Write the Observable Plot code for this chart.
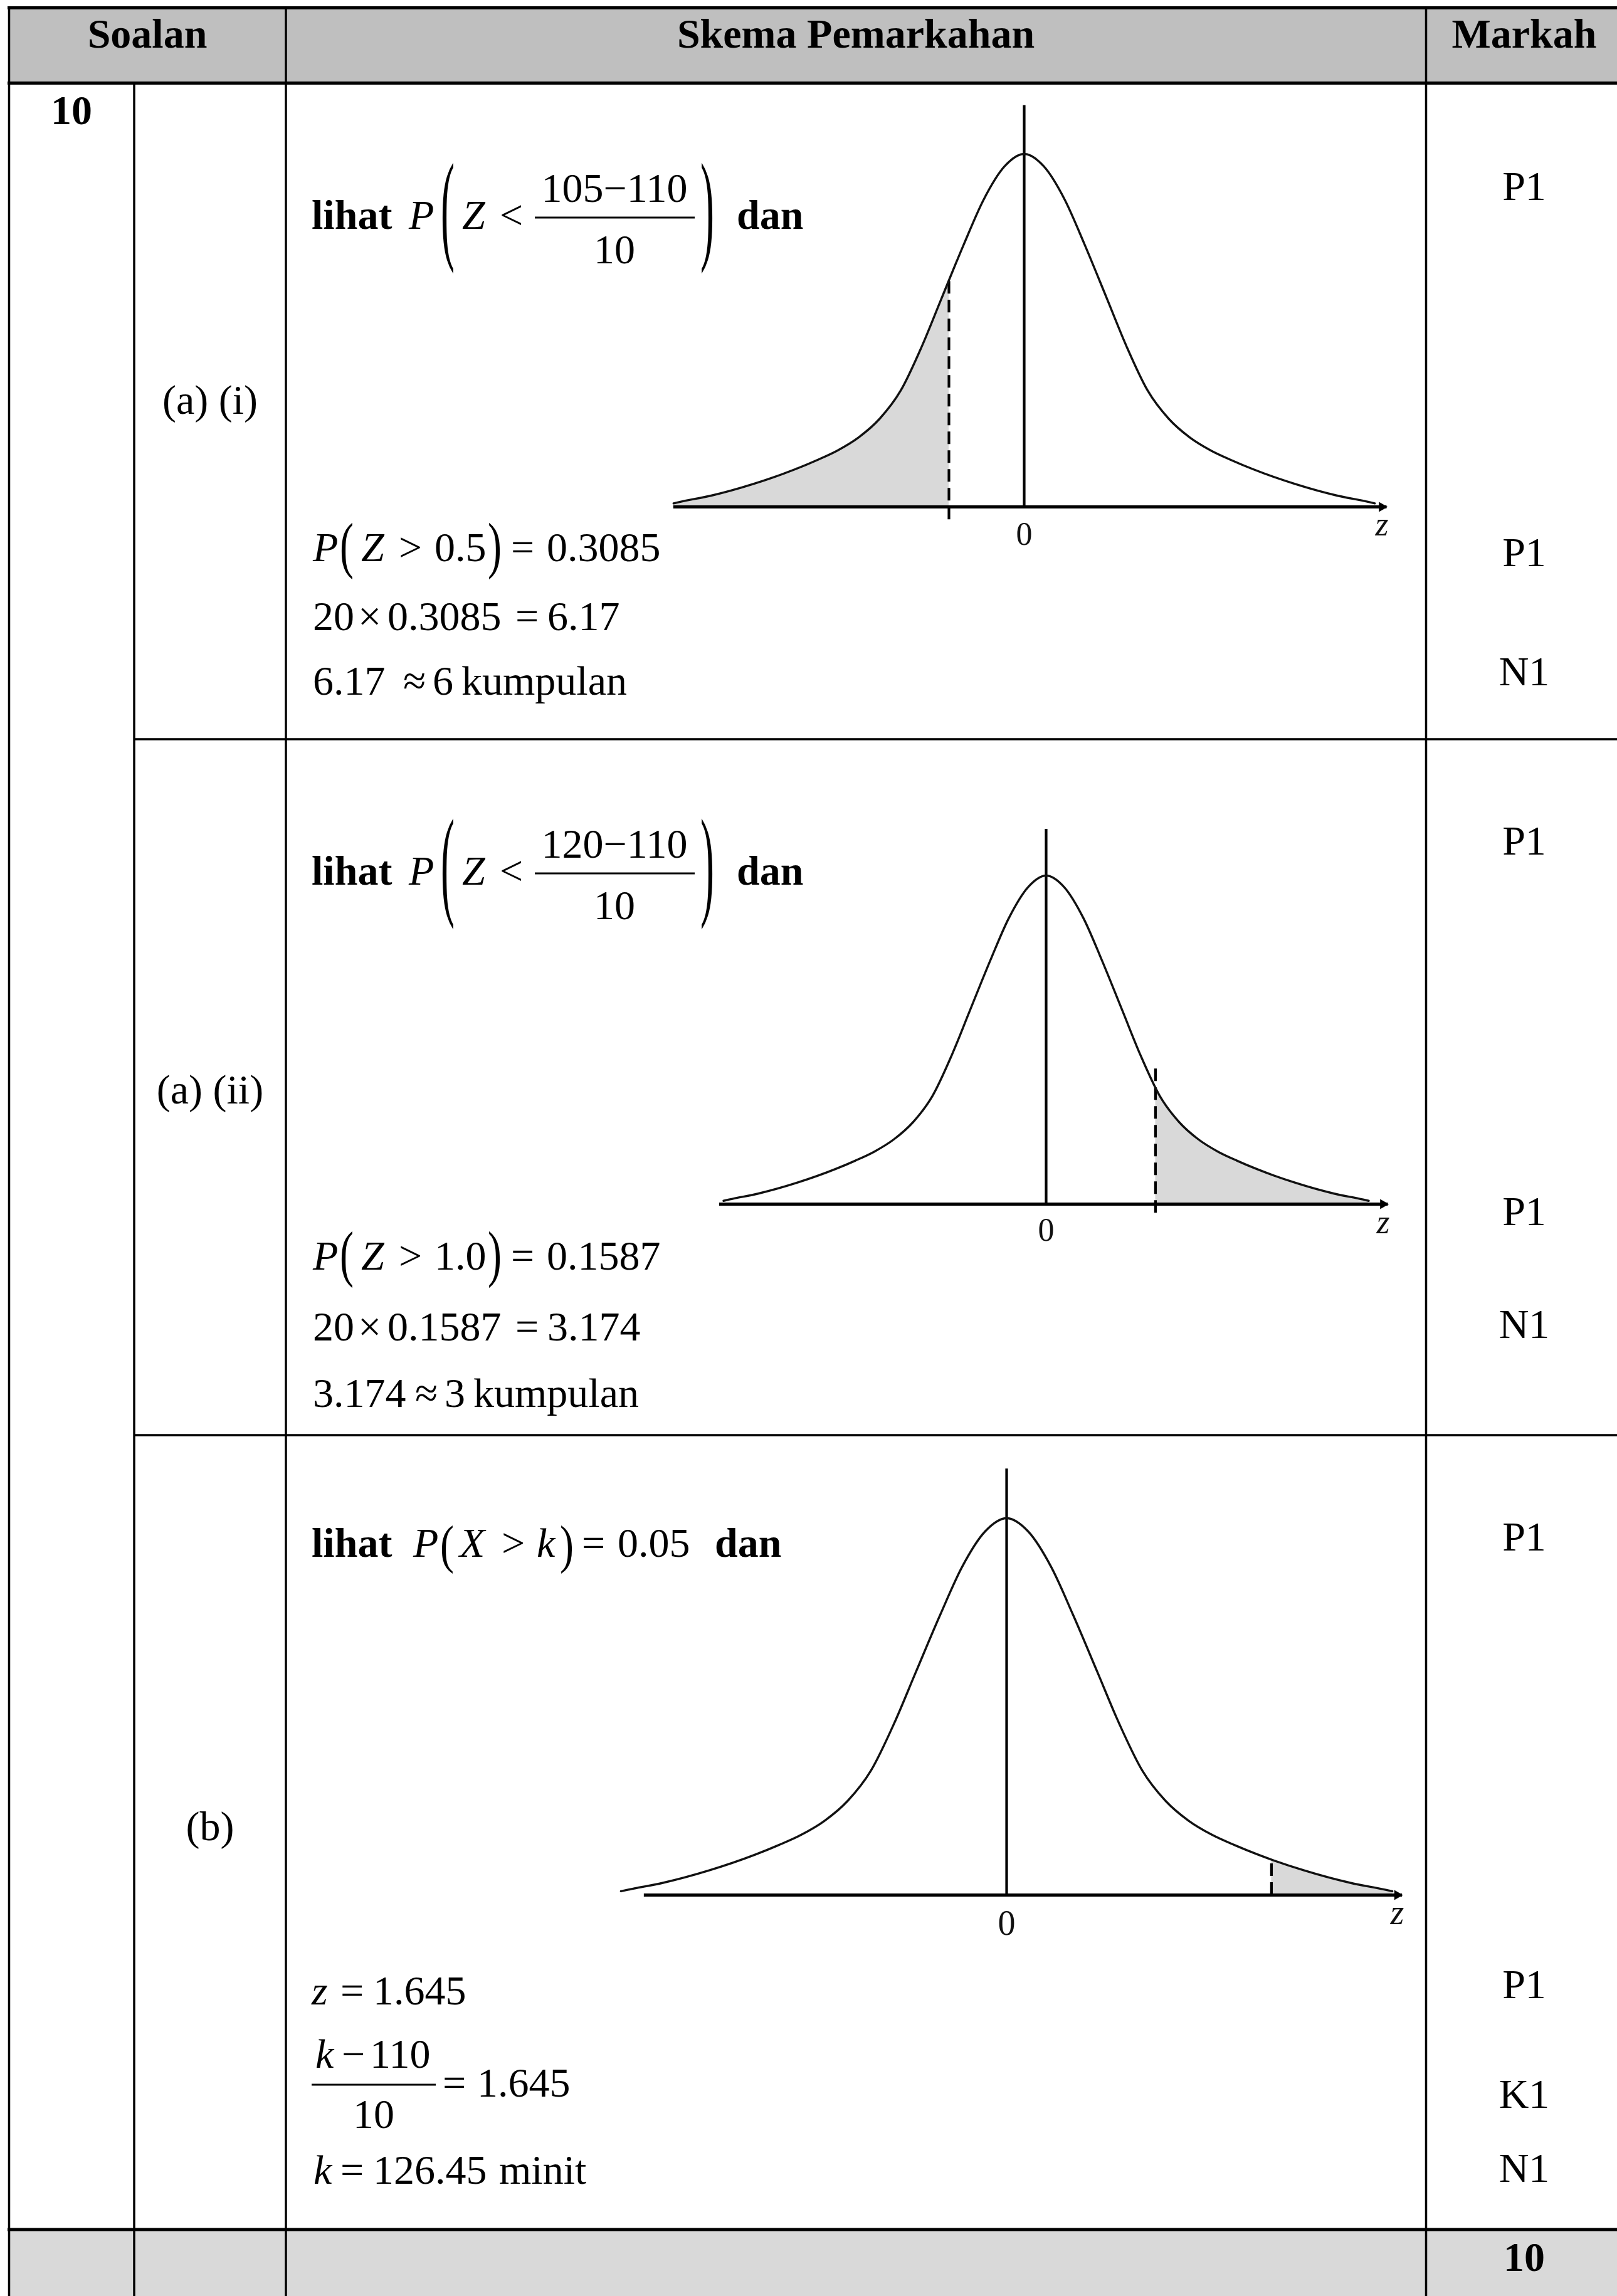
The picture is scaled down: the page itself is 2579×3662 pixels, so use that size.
<!DOCTYPE html>
<html>
<head>
<meta charset="utf-8">
<script src="https://cdn.jsdelivr.net/npm/d3@7"></script>
<script src="https://cdn.jsdelivr.net/npm/@observablehq/plot@0.6"></script>
<style>
html, body { margin: 0; padding: 0; background: #fff; }
#page { position: relative; width: 2579px; height: 3662px; overflow: hidden; background: #fff;
        font-family: "Liberation Serif", "Times New Roman", serif; }
#table { position: absolute; left: 0; top: 0; }
</style>
</head>
<body>
<div id="page"></div>
<script>
// ---------------- DATA ----------------
// Bell-curve shape: right half, horizontal position u and height as a fraction of the peak
const curveU = [0, 0.13, 0.27, 0.40, 0.55, 0.68, 0.82, 0.96, 1.10, 1.24, 1.38, 1.52, 1.80, 2.08, 2.29, 2.33];
const curveH = [1, 0.965, 0.870, 0.745, 0.590, 0.455, 0.330, 0.250, 0.197, 0.160, 0.132, 0.107, 0.065, 0.032, 0.014, 0.010];

const partLabels = ["(a) (i)", "(a) (ii)", "(b)"];
const cutU = [-0.5, 0.79, 1.60];          // dashed cut position (curve units)
const cutH = [0.642, 0.357, 0.095];       // curve height at the cut
const dashTop = [0.642, 0.412, 0.095];
const dashBottom = [-0.036, -0.027, 0];
const shadeSide = ["left", "right", "right"];
const axisFrom = [-2.33, -2.36, -2.19];
const axisTo = [2.41, 2.47, 2.39];
const zeroLineTop = [1.137, 1.141, 1.131];
const tickValues = [0];
const tickLabels = ["0"];
const axisName = "z";

const headers = ["Soalan", "Skema Pemarkahan", "Markah"];
const questionNo = "10";
const numerators = ["105−110", "120−110"];
const denominator = "10";
const probLines = [["0.5", "0.3085"], ["1.0", "0.1587"]];
const productLines = [["20", "0.3085", "6.17"], ["20", "0.1587", "3.174"]];
const roundLines = [["6.17", "6", "kumpulan"], ["3.174", "3", "kumpulan"]];
const partBTexts = ["0.05", "1.645", "110", "10", "126.45", "minit"];
const markLabels = [["P1", "P1", "N1"], ["P1", "P1", "N1"], ["P1", "P1", "K1", "N1"]];
const totalMark = "10";

// ---------------- TABLE + TEXT (layout) ----------------
const FS = 66;
const parts = [];
const esc = s => s.replace(/&/g, "&amp;").replace(/</g, "&lt;").replace(/>/g, "&gt;");
function txt(x, y, s, o = {}) {
  parts.push(`<text x="${x}" y="${y}" font-size="${o.fs || FS}"${o.bold ? ' font-weight="bold"' : ''}${o.it ? ' font-style="italic"' : ''} text-anchor="${o.anchor || 'start'}">${esc(s)}</text>`);
}
function paren(ch, x, yTop, yBot, fs = FS) {
  const s = (yBot - yTop) / (0.853 * fs);
  const c = (yTop + yBot) / 2;
  const oy = c + 0.25 * fs * s;
  parts.push(`<text transform="translate(${x},${oy}) scale(1,${s.toFixed(3)})" font-size="${fs}">${ch}</text>`);
}
function line(x1, y1, x2, y2, w, col = "#000") {
  parts.push(`<line x1="${x1}" y1="${y1}" x2="${x2}" y2="${y2}" stroke="${col}" stroke-width="${w}"/>`);
}
function rect(x, y, w, h, fill) { parts.push(`<rect x="${x}" y="${y}" width="${w}" height="${h}" fill="${fill}"/>`); }

// backgrounds
rect(13, 13, 2600, 119, "#bfbfbf");
rect(13, 3556, 2600, 120, "#d9d9d9");
// vertical lines
line(14.5, 10, 14.5, 3662, 3.5);
line(214, 132, 214, 3662, 3.5);
line(456, 10, 456, 3662, 3.5);
line(2274.5, 10, 2274.5, 3662, 3.5);
line(2590, 10, 2590, 3662, 3.5);
// horizontal lines
line(12, 12.5, 2600, 12.5, 5);
line(12, 132.5, 2600, 132.5, 5);
line(214, 1179, 2600, 1179, 3.5);
line(214, 2289, 2600, 2289, 3.5);
line(12, 3556, 2600, 3556, 5);

// header
txt(235, 76, headers[0], { bold: true, anchor: "middle" });
txt(1365, 76, headers[1], { bold: true, anchor: "middle" });
txt(2431, 76, headers[2], { bold: true, anchor: "middle" });
txt(114, 198, questionNo, { bold: true, anchor: "middle" });

// part labels
txt(335, 660, partLabels[0], { anchor: "middle" });
txt(335, 1760, partLabels[1], { anchor: "middle" });
txt(335, 2935, partLabels[2], { anchor: "middle" });

// marks column
const markY = [[319, 903, 1093], [1363, 1954, 2134], [2473, 3187, 3362, 3480]];
markLabels.forEach((col, i) => col.forEach((m, j) => txt(2431, markY[i][j], m, { anchor: "middle" })));
txt(2431, 3622, totalMark, { bold: true, anchor: "middle" });

// parts (a)(i) and (a)(ii)
[0, 1].forEach(i => {
  const o = i === 0 ? 0 : 1046;
  txt(497, 365 + o, "lihat", { bold: true });
  txt(652, 365 + o, "P", { it: true });
  paren("(", 703, 263 + o, 430 + o);
  txt(737, 365 + o, "Z", { it: true });
  txt(797, 365 + o, "<");
  txt(980, 322 + o, numerators[i], { anchor: "middle" });
  line(853, 347 + o, 1108, 347 + o, 3);
  txt(980, 420 + o, denominator, { anchor: "middle" });
  paren(")", 1117, 263 + o, 430 + o);
  txt(1175, 365 + o, "dan", { bold: true });

  const b = i === 0 ? [895, 1005, 1108] : [2025, 2138, 2244];
  const [zv, pv] = probLines[i];
  txt(499, b[0], "P", { it: true });
  paren("(", 542, b[0] - 59, b[0] + 26);
  txt(576, b[0], "Z", { it: true });
  txt(636, b[0], ">");
  txt(693, b[0], zv);
  paren(")", 778, b[0] - 59, b[0] + 26);
  txt(815, b[0], "=");
  txt(872, b[0], pv);

  const [n, p, r] = productLines[i];
  txt(499, b[1], n);
  txt(571, b[1], "×");
  txt(618, b[1], p);
  txt(822, b[1], "=");
  txt(873, b[1], r);

  const [a, k, w] = roundLines[i];
  txt(499, b[2], a);
  const ax = i === 0 ? 643 : 662;
  txt(ax, b[2], "≈");
  txt(ax + 47, b[2], k);
  txt(ax + 93, b[2], w);
});

// part (b)
txt(497, 2483, "lihat", { bold: true });
txt(659, 2483, "P", { it: true });
paren("(", 702, 2434, 2507);
txt(733, 2483, "X", { it: true });
txt(800, 2483, ">");
txt(856, 2483, "k", { it: true });
paren(")", 893, 2434, 2507);
txt(928, 2483, "=");
txt(985, 2483, partBTexts[0]);
txt(1140, 2483, "dan", { bold: true });

txt(497, 3197, "z", { it: true });
txt(543, 3197, "=");
txt(595, 3197, partBTexts[1]);

txt(503, 3298, "k", { it: true });
txt(545, 3298, "−");
txt(590, 3298, partBTexts[2]);
line(497, 3325, 695, 3325, 3);
txt(596, 3394, partBTexts[3], { anchor: "middle" });
txt(706, 3344, "=");
txt(761, 3344, partBTexts[1]);

txt(500, 3483, "k", { it: true });
txt(543, 3483, "=");
txt(595, 3483, partBTexts[4]);
txt(796, 3483, partBTexts[5]);

const page = document.getElementById("page");
page.insertAdjacentHTML("beforeend",
  `<svg id="table" width="2579" height="3662" font-family="'Liberation Serif','Times New Roman',serif" fill="#000">${parts.join("")}</svg>`);

// ---------------- CURVES (Observable Plot) ----------------
const half = curveU.map((u, i) => ({ u, h: curveH[i] }));
const curve = [...half.slice(1).reverse().map(d => ({ u: -d.u, h: d.h })), ...half];

const geo = [
  { zeroX: 1633, axisY: 808, pxu: 240, peak: 563, L: 1040, T: 150, W: 1240, H: 740, zeroDy: 60, zeroFs: 52, zDy: 45, zFs: 54 },
  { zeroX: 1668, axisY: 1920, pxu: 220.8, peak: 524, L: 1100, T: 1290, W: 1180, H: 730, zeroDy: 58, zeroFs: 52, zDy: 46, zFs: 54 },
  { zeroX: 1605, axisY: 3022, pxu: 264, peak: 601, L: 960, T: 2320, W: 1320, H: 800, zeroDy: 63, zeroFs: 56, zDy: 46, zFs: 56 }
];

geo.forEach((g, i) => {
  const cut = cutU[i];
  const shade = shadeSide[i] === "left"
    ? [...curve.filter(d => d.u < cut), { u: cut, h: cutH[i] }]
    : [{ u: cut, h: cutH[i] }, ...curve.filter(d => d.u > cut)];
  const ticks = tickValues.map((v, j) => ({ v, label: tickLabels[j] }));
  const chart = Plot.plot({
    width: g.W,
    height: g.H,
    margin: 0,
    x: { domain: [(g.L - g.zeroX) / g.pxu, (g.L + g.W - g.zeroX) / g.pxu], axis: null },
    y: { domain: [(g.axisY - (g.T + g.H)) / g.peak, (g.axisY - g.T) / g.peak], axis: null },
    style: { background: "none", overflow: "visible" },
    marks: [
      Plot.areaY(shade, { x: "u", y: "h", fill: "#d9d9d9", curve: "monotone-x" }),
      Plot.ruleX([cut], { y1: dashBottom[i], y2: dashTop[i], stroke: "#000", strokeWidth: 4.2, strokeDasharray: "20,10" }),
      Plot.ruleX([0], { y1: 0, y2: zeroLineTop[i], stroke: "#000", strokeWidth: 4.2 }),
      Plot.line(curve, { x: "u", y: "h", stroke: "#111", strokeWidth: 3.4, curve: "monotone-x" }),
      Plot.ruleY([0], { x1: axisFrom[i], x2: axisTo[i], stroke: "#000", strokeWidth: 4.8 }),
      Plot.dot([axisTo[i]], { x: d => d, y: 0, symbol: "triangle", rotate: 90, r: 6, fill: "#000", stroke: null, dx: -8 }),
      Plot.text(ticks, { x: "v", y: 0, text: "label", dy: g.zeroDy, lineAnchor: "bottom", fontSize: g.zeroFs, fontFamily: "Liberation Serif", fill: "#111" }),
      Plot.text([axisName], { x: axisTo[i], y: 0, text: d => d, dy: g.zDy, dx: -8, lineAnchor: "bottom", fontSize: g.zFs, fontStyle: "italic", fontFamily: "Liberation Serif", fill: "#111" })
    ]
  });
  chart.style.position = "absolute";
  chart.style.left = g.L + "px";
  chart.style.top = g.T + "px";
  chart.style.maxWidth = "none";
  chart.style.background = "none";
  page.appendChild(chart);
});
</script>
</body>
</html>
